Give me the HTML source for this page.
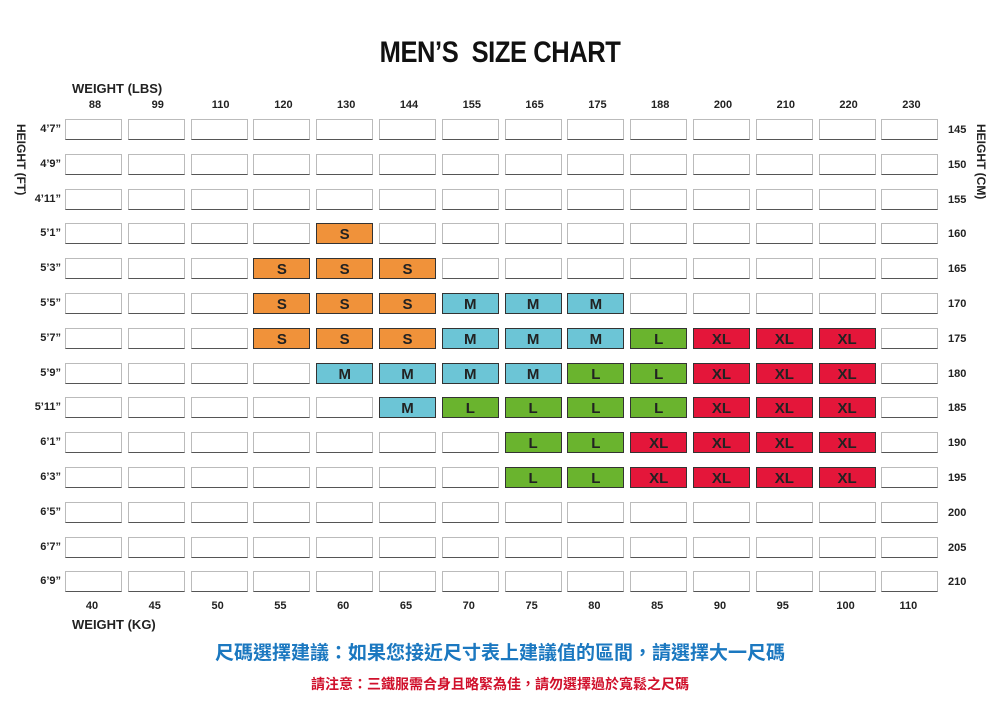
<!DOCTYPE html>
<html><head><meta charset="utf-8">
<style>
body{margin:0;width:1000px;height:707px;background:#fff;position:relative;overflow:hidden;font-family:"Liberation Sans",Arial,sans-serif;}
.a{position:absolute;}
.t{position:absolute;left:0;width:1000px;text-align:center;top:36px;font-size:30px;font-weight:bold;letter-spacing:-0.5px;color:#111;transform:scaleX(0.85);}
.c{position:absolute;width:57px;height:21px;border:1px solid #bbb;border-bottom:1.5px solid #555;box-sizing:border-box;background:#fff;font-weight:bold;font-size:15px;color:#222;text-align:center;line-height:22px;}
.lb{position:absolute;font-size:11px;font-weight:bold;color:#222;}
.vt{position:absolute;font-size:12px;font-weight:bold;color:#222;transform:rotate(90deg);transform-origin:left top;white-space:nowrap;}
</style></head><body>
<div class="t">MEN’S&nbsp; SIZE CHART</div>
<div class="a" style="left:72px;top:81px;font-size:13px;font-weight:bold;color:#222">WEIGHT (LBS)</div>
<div class="a" style="left:72px;top:617px;font-size:13px;font-weight:bold;color:#222">WEIGHT (KG)</div>
<div class="vt" style="left:28px;top:124px">HEIGHT (FT)</div>
<div class="vt" style="left:988px;top:124px">HEIGHT (CM)</div>
<div id="g"></div>
<div class="a" style="left:0;width:1000px;text-align:center;top:638px;font-size:19px;font-weight:bold;color:#1b78c0;font-family:'Liberation Sans','Noto Sans CJK TC',sans-serif">尺碼選擇建議：如果您接近尺寸表上建議值的區間，請選擇大一尺碼</div>
<div class="a" style="left:0;width:1000px;text-align:center;top:674px;font-size:14px;font-weight:bold;color:#d0102b;font-family:'Liberation Sans','Noto Sans CJK TC',sans-serif">請注意：三鐵服需合身且略緊為佳，請勿選擇過於寬鬆之尺碼</div>
<script>
var lbs=[88,99,110,120,130,144,155,165,175,188,200,210,220,230];
var kg=[40,45,50,55,60,65,70,75,80,85,90,95,100,110];
var ft=["4’7”","4’9”","4’11”","5’1”","5’3”","5’5”","5’7”","5’9”","5’11”","6’1”","6’3”","6’5”","6’7”","6’9”"];
var cm=[145,150,155,160,165,170,175,180,185,190,195,200,205,210];
var col={S:"#f0923a",M:"#6cc5d6",L:"#6ab42e",XL:"#e4163a"};
var m={};
function set(r,cs,s){cs.forEach(function(c){m[r+"_"+c]=s;});}
set(3,[4],"S");
set(4,[3,4,5],"S");
set(5,[3,4,5],"S");set(5,[6,7,8],"M");
set(6,[3,4,5],"S");set(6,[6,7,8],"M");set(6,[9],"L");set(6,[10,11,12],"XL");
set(7,[4,5,6,7],"M");set(7,[8,9],"L");set(7,[10,11,12],"XL");
set(8,[5],"M");set(8,[6,7,8,9],"L");set(8,[10,11,12],"XL");
set(9,[7,8],"L");set(9,[9,10,11,12],"XL");
set(10,[7,8],"L");set(10,[9,10,11,12],"XL");
var h="";
for(var c=0;c<14;c++){
 var cx=95+c*62.8;
 h+='<div class="lb" style="left:'+(cx-20)+'px;width:40px;text-align:center;top:99px">'+lbs[c]+'</div>';
 h+='<div class="lb" style="left:'+(cx-20-3)+'px;width:40px;text-align:center;top:600px">'+kg[c]+'</div>';
}
for(var r=0;r<14;r++){
 var y=119+r*34.8;
 h+='<div class="lb" style="left:20px;width:41px;text-align:right;top:'+(y+4)+'px">'+ft[r]+'</div>';
 h+='<div class="lb" style="left:948px;top:'+(y+5)+'px">'+cm[r]+'</div>';
 for(var c=0;c<14;c++){
  var x=65+c*62.8, s=m[r+"_"+c];
  h+='<div class="c" style="left:'+x+'px;top:'+y+'px;'+(s?'background:'+col[s]+';border:1px solid #333;':'')+'">'+(s||'')+'</div>';
 }
}
document.getElementById("g").innerHTML=h;
</script>
</body></html>
